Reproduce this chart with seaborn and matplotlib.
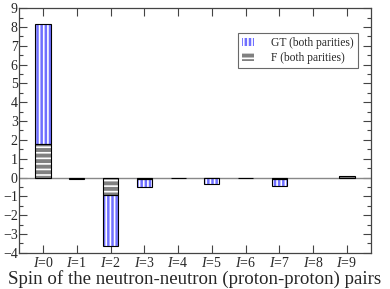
import matplotlib
matplotlib.use("Agg")
import matplotlib.pyplot as plt
import matplotlib.ticker as mticker
from matplotlib.patches import Rectangle
import seaborn as sns

# contribuições por spin do par (leitura do gráfico)
spins   = ["$I$=0", "$I$=1", "$I$=2", "$I$=3", "$I$=4", "$I$=5", "$I$=6", "$I$=7", "$I$=8", "$I$=9"]
f_vals  = [1.80, -0.10, -0.95, -0.10, -0.03, -0.05, -0.02, -0.06, 0.00, 0.06]
gt_vals = [6.35,  0.00, -2.70, -0.38,  0.00, -0.31,  0.00, -0.39, 0.00, 0.00]

COR_GT = "#7070ff"
COR_F  = "#808080"

sns.set_style("ticks")
plt.rcParams["font.family"] = ["Liberation Serif", "DejaVu Serif"]
plt.rcParams["mathtext.fontset"] = "custom"
plt.rcParams["mathtext.rm"] = "Liberation Serif"
plt.rcParams["mathtext.it"] = "Liberation Serif:italic"
plt.rcParams["hatch.linewidth"] = 1.2

fig = plt.figure(figsize=(3.9, 2.89), dpi=100)
ax = fig.add_axes([0.049, 0.125, 0.902, 0.847])

ax.axhline(0, color="#888888", lw=1.0, zorder=1)

sns.barplot(x=spins, y=f_vals, ax=ax, color=COR_F, saturation=1, width=0.45,
            hatch="---", edgecolor="white", linewidth=0, label="F (both parities)", zorder=2)
sns.barplot(x=spins, y=gt_vals, ax=ax, color=COR_GT, saturation=1, width=0.45,
            bottom=f_vals, hatch="||||", edgecolor="white", linewidth=0,
            label="GT (both parities)", zorder=2)

# contorno preto por cima (hatch fica branco)
for p in list(ax.patches):
    if abs(p.get_height()) > 0:
        ax.add_patch(Rectangle(p.get_xy(), p.get_width(), p.get_height(),
                               fill=False, ec="black", lw=0.8, zorder=3))

ax.set_xlim(-0.71, 9.71)
ax.set_ylim(-4, 9)
ax.yaxis.set_major_locator(mticker.MultipleLocator(1))
ax.yaxis.set_minor_locator(mticker.MultipleLocator(0.5))
ax.tick_params(axis="both", which="both", direction="in", top=True, right=True,
               labelsize=10, color="#444444", pad=2)
ax.tick_params(which="major", length=6, width=0.8)
ax.tick_params(which="minor", length=3, width=0.8)
ax.tick_params(axis="y", pad=1)
for s in ax.spines.values():
    s.set_color("#444444")
    s.set_linewidth(0.9)

ax.set_xlabel("Spin of the neutron-neutron (proton-proton) pairs", fontsize=13.6, labelpad=0)
ax.set_ylabel("")

h, l = ax.get_legend_handles_labels()
leg = ax.legend(h[::-1], l[::-1], loc="upper right", bbox_to_anchor=(0.963, 0.898),
                fontsize=8.3, frameon=True, fancybox=False, edgecolor="#444444",
                handlelength=1.0, handleheight=0.65, borderpad=0.35, labelspacing=0.25,
                handletextpad=1.5, borderaxespad=0)
leg.get_frame().set_linewidth(0.8)

plt.savefig("out.png", dpi=100)
plt.close()
